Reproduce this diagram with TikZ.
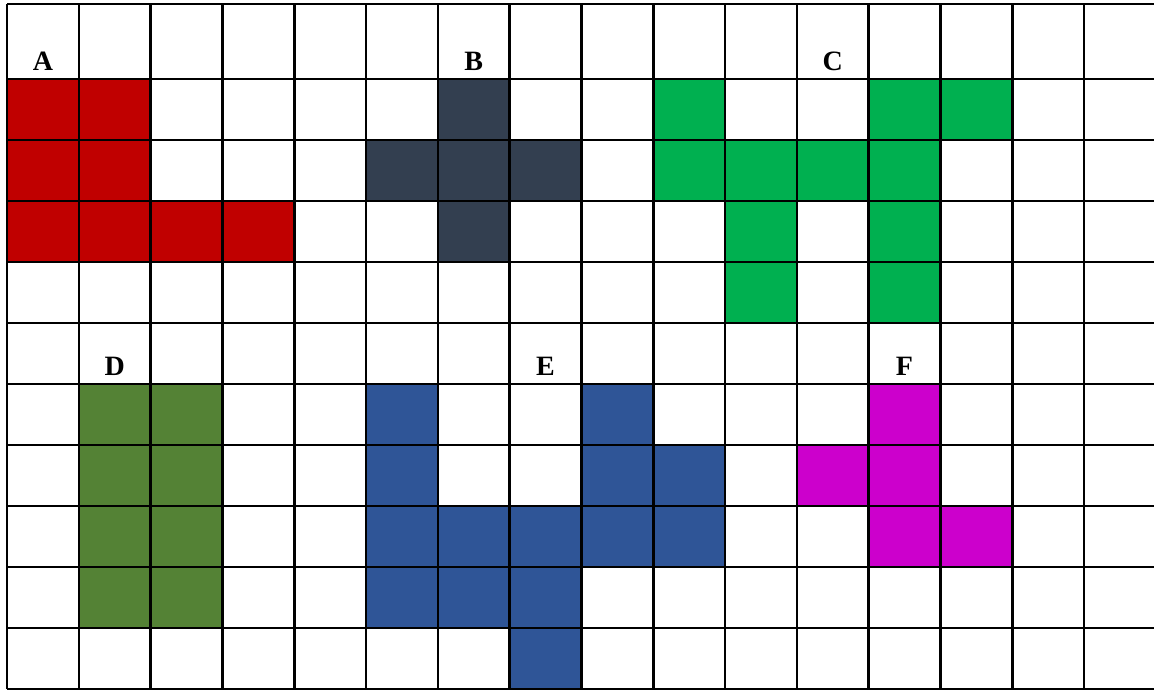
\documentclass[tikz,border=0pt]{standalone}
\usepackage{fontspec}
\setmainfont{Liberation Serif}
\usepackage{tikz}
\usetikzlibrary{positioning}
\definecolor{shA}{HTML}{C00000}
\definecolor{shB}{HTML}{333F50}
\definecolor{shC}{HTML}{00B050}
\definecolor{shD}{HTML}{548235}
\definecolor{shE}{HTML}{2F5597}
\definecolor{shF}{HTML}{CC00CC}
\tikzset{
  gridln/.style={line width=2.6pt,black},
  lbl/.style={font=\fontsize{28}{30}\selectfont\bfseries,anchor=base,inner sep=0pt},
}
\newcommand{\cw}{71.8}
\begin{document}
\begin{tikzpicture}[x=1pt,y=-1pt]
  \useasboundingbox (0,0) rectangle (1154,689);
  \begin{scope}
  \clip (0,0) rectangle (1154,689);
  % filled cells: colour / list of col-row
  \foreach \col/\cells in {
      shA/{0/1,1/1,0/2,1/2,0/3,1/3,2/3,3/3},
      shB/{6/1,5/2,6/2,7/2,6/3},
      shC/{9/1,12/1,13/1,9/2,10/2,11/2,12/2,10/3,12/3,10/4,12/4},
      shD/{1/6,2/6,1/7,2/7,1/8,2/8,1/9,2/9},
      shE/{5/6,8/6,5/7,8/7,9/7,5/8,6/8,7/8,8/8,9/8,5/9,6/9,7/9,7/10},
      shF/{12/6,11/7,12/7,12/8,13/8}}{
    \foreach \c/\r in \cells
      \fill[\col] ({7+\cw*\c},{18+61*\r}) rectangle +(\cw,61);
  }
  % table grid
  \foreach \k in {0,...,16}
    \draw[gridln] ({7+\cw*\k},4) -- ({7+\cw*\k},689);
  \draw[gridln] (7,4) -- (1160,4);
  \foreach \r in {1,...,11}
    \draw[gridln] (7,{18+61*\r}) -- (1160,{18+61*\r});
  \end{scope}
  % shape labels
  \node[lbl] (lblA) at ({7+\cw*0.5},70) {A};
  \node[lbl] (lblB) at ({7+\cw*6.5},70) {B};
  \node[lbl] (lblC) at ({7+\cw*11.5},70) {C};
  \node[lbl] (lblD) at ({7+\cw*1.5},375) {D};
  \node[lbl] (lblE) at ({7+\cw*7.5},375) {E};
  \node[lbl] (lblF) at ({7+\cw*12.5},375) {F};
\end{tikzpicture}
\end{document}
